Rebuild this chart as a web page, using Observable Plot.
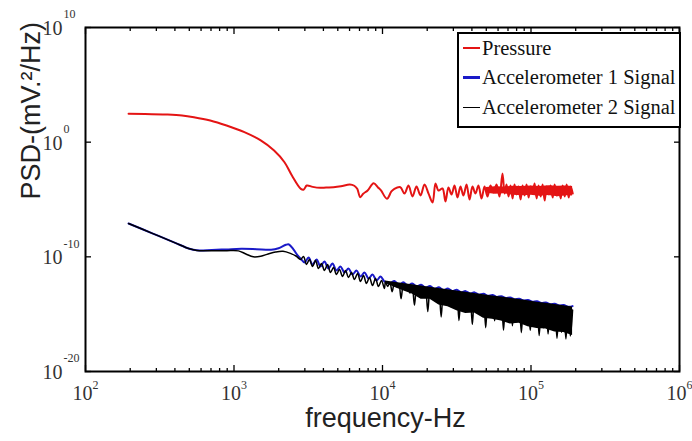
<!DOCTYPE html>
<html><head><meta charset="utf-8">
<script src="https://cdn.jsdelivr.net/npm/d3@7"></script>
<script src="https://cdn.jsdelivr.net/npm/@observablehq/plot@0.6"></script>
<style>
body{margin:0;background:#fff}
#wrap{position:relative;width:692px;height:441px;overflow:hidden}
#legend{position:absolute;left:457px;top:32px;width:220px;height:92px;border:2px solid #000;background:#fff;font-family:"Liberation Serif",serif;font-size:20.5px;color:#111}
.row{position:absolute;left:4px;height:28px;display:flex;align-items:center;white-space:nowrap}
.sw{width:17px;height:0;margin-right:2px}
</style></head><body><div id="wrap"></div>
<script>
// frequency in log10(Hz), PSD in log10(mV^2/Hz)
const seriesNames = ["Pressure", "Accelerometer 1 Signal", "Accelerometer 2 Signal"];
const seriesColors = ["#e41414", "#1a1ac8", "#000000"];

const pressureLogF = [2.29,2.40,2.55,2.65,2.73,2.84,2.95,3.07,3.18,3.27,3.34,3.39,3.45,3.47,3.49,3.53,3.58,3.62,3.67,3.72,3.78,3.81,3.83,3.85,3.87,3.90,3.94,3.97,3.99,4.03,4.06,4.08,4.12,4.148,4.175,4.202,4.229,4.256,4.283,4.310,4.337,4.357,4.377,4.404,4.424,4.444,4.465,4.485,4.505,4.525,4.545,4.566,4.586,4.606,4.626,4.646,4.667,4.687,4.707,4.727,4.747,4.768,4.788,4.808,4.822,4.835,
4.849,4.862,4.876,4.889,4.903,4.916,4.930,4.943,4.957,4.970,4.984,4.997,5.011,5.024,5.038,5.051,5.065,5.078,5.092,5.105,5.119,5.132,5.146,5.159,5.173,5.186,5.200,5.213,5.227,5.240,5.254,5.267,5.281];
const pressureLogPsd = [2.47,2.46,2.41,2.33,2.18,1.89,1.45,0.87,0.15,-0.73,-1.75,-2.91,-4.07,-4.13,-3.78,-3.90,-3.98,-3.95,-3.93,-3.85,-3.69,-3.80,-4.07,-4.80,-4.50,-4.21,-3.58,-3.95,-4.21,-4.94,-4.30,-4.07,-3.93,-4.48,-3.78,-4.74,-3.87,-4.65,-3.69,-4.48,-5.26,-3.60,-4.21,-4.04,-5.17,-3.95,-4.56,-3.78,-4.83,-3.87,-4.65,-3.69,-5.00,-3.87,-4.48,-3.78,-4.91,-3.87,-4.74,-3.78,-4.39,-3.69,-4.74,-2.73,-4.48,-3.69,
-4.74,-3.78,-4.91,-3.69,-4.56,-3.87,-5.00,-3.78,-4.65,-3.69,-4.83,-3.87,-4.48,-3.60,-4.91,-3.78,-4.74,-3.69,-5.09,-3.87,-4.56,-3.78,-4.83,-3.69,-4.65,-3.95,-4.91,-3.78,-4.74,-3.69,-4.83,-3.87,-4.48];
// solid core of the dense pressure noise band
const pressureBandLogF = [4.70,4.76,4.82,4.88,4.94,5.00,5.06,5.12,5.18,5.24,5.28];
const pressureBandTop = [-3.95,-3.88,-3.92,-3.84,-3.86,-3.82,-3.86,-3.80,-3.85,-3.82,-3.86];
const pressureBandBottom = [-4.45,-4.55,-4.50,-4.62,-4.68,-4.62,-4.72,-4.66,-4.76,-4.68,-4.70];

const accel1LogF = [2.29,2.45,2.60,2.70,2.75,2.85,2.95,3.05,3.15,3.25,3.30,3.35,3.37,3.40,3.43,
3.448,3.475,3.502,3.529,3.556,3.582,3.609,3.636,3.663,3.690,3.717,3.744,3.771,3.798,3.825,3.852,3.879,3.906,3.933,3.960,3.987,4.013,
4.05,4.08,4.11,4.14,4.17,4.20,4.23,4.26,4.29,4.32,4.35,4.38,4.41,4.44,4.47,4.50,4.53,4.56,4.59,4.62,4.65,4.68,4.71,4.74,4.77,4.80,4.83,4.86,4.89,4.92,4.95,4.98,5.01,5.04,5.07,5.10,5.13,5.16,5.19,5.22,5.25,5.28];
const accel1LogPsd = [-7.09,-7.95,-8.76,-9.30,-9.43,-9.40,-9.35,-9.30,-9.33,-9.38,-9.25,-8.95,-8.92,-9.35,-9.90,
-10.15,-10.49,-10.06,-10.67,-10.23,-10.84,-10.41,-11.02,-10.58,-11.19,-10.84,-11.37,-11.02,-11.54,-11.19,-11.71,-11.37,-11.89,-11.54,-12.06,-11.71,-12.15,
-12.30,-12.10,-12.45,-12.22,-12.50,-12.32,-12.60,-12.43,-12.70,-12.55,-12.80,-12.66,-12.90,-12.77,-12.99,-12.88,-13.10,-12.99,-13.20,-13.10,-13.30,-13.21,-13.40,-13.32,-13.50,-13.43,-13.60,-13.54,-13.71,-13.65,-13.81,-13.76,-13.92,-13.87,-14.03,-13.98,-14.13,-14.09,-14.24,-14.20,-14.35,-14.30];

const accel2LogF = [2.29,2.45,2.60,2.70,2.75,2.85,2.95,3.03,3.08,3.13,3.18,3.23,3.28,3.33,3.38,3.42,
3.448,3.468,3.488,3.508,3.529,3.549,3.569,3.589,3.609,3.630,3.650,3.670,3.690,3.710,3.731,3.751,3.771,3.791,3.811,3.832,3.852,3.872,3.892,3.912,3.933,3.953,3.973,3.993,4.013,
4.020,4.035,4.050,4.065,4.080,4.095,4.110,4.125,4.140,4.155,4.170,4.185,4.200,4.215,4.230,4.245,4.260,4.275,4.290,4.305,4.320,4.335,4.350,4.365,4.380,4.395,4.410,4.425,4.440,4.455,4.470,4.485,4.500,4.515,4.530,4.545,4.560,4.575,4.590,4.605,4.620,4.635,4.650,4.665,4.680,4.695,4.710,4.725,4.740,4.755,4.770,4.785,4.800,4.815,4.830,4.845,4.860,4.875,4.890,4.905,4.920,4.935,4.950,4.965,4.980,4.995,5.010,5.025,5.040,5.055,5.070,5.085,5.100,5.115,5.130,5.145,5.160,5.175,5.190,5.205,5.220,5.235,5.250,5.265,5.280];
const accel2LogPsd = [-7.09,-7.95,-8.76,-9.30,-9.45,-9.46,-9.46,-9.48,-9.75,-10.00,-9.95,-9.75,-9.58,-9.52,-9.70,-9.95,
-10.23,-9.97,-10.67,-10.23,-10.84,-10.32,-11.02,-10.58,-11.19,-10.67,-11.37,-10.93,-11.54,-11.10,-11.71,-11.19,-11.80,-11.37,-11.98,-11.45,-12.15,-11.63,-12.33,-11.80,-12.50,-11.89,-12.59,-12.06,-12.76,
-12.16,-12.59,-12.26,-13.04,-12.27,-12.60,-12.42,-13.65,-12.38,-12.90,-12.48,-13.16,-12.48,-14.21,-12.64,-13.17,-12.59,-13.52,-12.70,-14.77,-12.70,-13.53,-12.85,-13.88,-12.81,-15.24,-12.91,-13.79,-12.92,-14.34,-13.07,-13.80,-13.02,-15.55,-13.13,-14.21,-13.13,-14.66,-13.29,-15.91,-13.24,-14.27,-13.34,-15.12,-13.35,-16.18,-13.50,-14.63,-13.46,-15.58,-13.56,-14.94,-13.56,-16.39,-13.72,-15.15,-13.67,-16.00,-13.78,-15.65,-13.78,-16.61,-13.93,-15.46,-13.89,-16.42,-13.99,-15.87,-14.00,-16.87,-14.15,-16.18,-14.10,-16.73,-14.21,-15.99,-14.21,-17.09,-14.37,-16.59,-14.32,-17.15,-14.42,-16.90,-14.63];
// solid core of the dense accelerometer 2 noise band
const accel2BandLogF = [4.02,4.08,4.14,4.20,4.26,4.32,4.38,4.44,4.50,4.56,4.62,4.68,4.74,4.80,4.86,4.92,4.98,5.04,5.10,5.16,5.22,5.28];
const accel2BandTop = [-12.11,-12.22,-12.33,-12.43,-12.54,-12.65,-12.76,-12.87,-12.97,-13.08,-13.19,-13.30,-13.41,-13.51,-13.62,-13.73,-13.84,-13.95,-14.05,-14.16,-14.27,-14.38];
const accel2BandBottom = [-12.30,-12.65,-12.95,-13.25,-13.70,-13.70,-14.20,-14.35,-14.70,-14.95,-14.90,-15.35,-15.45,-15.60,-15.85,-15.80,-16.10,-16.25,-16.30,-16.55,-16.60,-16.85];

const xMajor = [1e2, 1e3, 1e4, 1e5, 1e6];
const xMinor = [2,3,4,5,6,7,8,9].flatMap(m => [1e2,1e3,1e4,1e5].map(p => m * p));
const yMajor = [1e10, 1e0, 1e-10, 1e-20];
const xTitle = "frequency-Hz";
const yTitle = "PSD-(mV.\u00B2/Hz)";

const toRows = (lf, lp) => lf.map((f, i) => ({f: 10 ** f, p: 10 ** lp[i]}));
const toBand = (lf, top, bottom) => lf.map((f, i) => ({f: 10 ** f, p1: 10 ** top[i], p2: 10 ** bottom[i]}));
const pressure = toRows(pressureLogF, pressureLogPsd);
const accel1 = toRows(accel1LogF, accel1LogPsd);
const accel2 = toRows(accel2LogF, accel2LogPsd);
const pressureBand = toBand(pressureBandLogF, pressureBandTop, pressureBandBottom);
const accel2Band = toBand(accel2BandLogF, accel2BandTop, accel2BandBottom);

const serif = "Liberation Serif, Times New Roman, serif";
const sans = "Liberation Sans, Arial, sans-serif";
const tickOpts = {tickFormat: () => "", label: null, stroke: "#000", strokeWidth: 1.3};

const chart = Plot.plot({
  width: 692, height: 441,
  marginLeft: 85, marginRight: 13, marginTop: 27, marginBottom: 70,
  style: {background: "#fff", overflow: "visible"},
  x: {type: "log", domain: [1e2, 1e6]},
  y: {type: "log", domain: [1e-20, 1e10]},
  marks: [
    Plot.areaY(pressureBand, {x: "f", y1: "p1", y2: "p2", fill: seriesColors[0]}),
    Plot.line(pressure, {x: "f", y: "p", stroke: seriesColors[0], strokeWidth: 2, curve: "catmull-rom"}),
    Plot.line(accel1, {x: "f", y: "p", stroke: seriesColors[1], strokeWidth: 2, curve: "catmull-rom"}),
    Plot.areaY(accel2Band, {x: "f", y1: "p1", y2: "p2", fill: seriesColors[2]}),
    Plot.line(accel2, {x: "f", y: "p", stroke: seriesColors[2], strokeWidth: 1.5, curve: "catmull-rom"}),
    Plot.axisX(xMajor, {anchor: "bottom", tickSize: -6, ...tickOpts}),
    Plot.axisX(xMajor, {anchor: "top", tickSize: -6, ...tickOpts}),
    Plot.axisX(xMinor, {anchor: "bottom", tickSize: -3, ...tickOpts}),
    Plot.axisX(xMinor, {anchor: "top", tickSize: -3, ...tickOpts}),
    Plot.axisY(yMajor, {anchor: "left", tickSize: -6, ...tickOpts}),
    Plot.axisY(yMajor, {anchor: "right", tickSize: -6, ...tickOpts}),
    Plot.frame({stroke: "#000", strokeWidth: 2}),
    Plot.text(xMajor, {x: d => d, frameAnchor: "bottom", text: () => "10", dx: -3, dy: 14, lineAnchor: "top", textAnchor: "middle", fontSize: 20, fontFamily: serif, fill: "#333"}),
    Plot.text(xMajor, {x: d => d, frameAnchor: "bottom", text: d => String(Math.round(Math.log10(d))), dx: 7, dy: 9, lineAnchor: "top", textAnchor: "start", fontSize: 12, fontFamily: serif, fill: "#333"}),
    Plot.text(yMajor, {y: d => d, frameAnchor: "left", text: () => "10", dx: -23, dy: 1, lineAnchor: "middle", textAnchor: "end", fontSize: 20, fontFamily: serif, fill: "#333"}),
    Plot.text(yMajor, {y: d => d, frameAnchor: "left", text: d => String(Math.round(Math.log10(d))), dx: -22, dy: -13, lineAnchor: "middle", textAnchor: "start", fontSize: 12, fontFamily: serif, fill: "#333"}),
    Plot.text([xTitle], {frameAnchor: "bottom", text: d => d, dy: 47, dx: 3, lineAnchor: "middle", fontSize: 27, fontFamily: sans, fill: "#222"}),
    Plot.text([yTitle], {frameAnchor: "left", text: d => d, dx: -54, rotate: -90, lineAnchor: "middle", fontSize: 27, fontFamily: sans, fill: "#222"})
  ]
});

const wrap = document.getElementById("wrap");
wrap.appendChild(chart);

const legend = document.createElement("div");
legend.id = "legend";
const swWidths = [2, 3, 1.5];
seriesNames.forEach((name, i) => {
  const row = document.createElement("div");
  row.className = "row";
  row.style.top = (i * 29.5) + "px";
  const sw = document.createElement("span");
  sw.className = "sw";
  sw.style.borderTop = swWidths[i] + "px solid " + seriesColors[i];
  row.appendChild(sw);
  row.appendChild(document.createTextNode(name));
  legend.appendChild(row);
});
wrap.appendChild(legend);
</script>
</body></html>
